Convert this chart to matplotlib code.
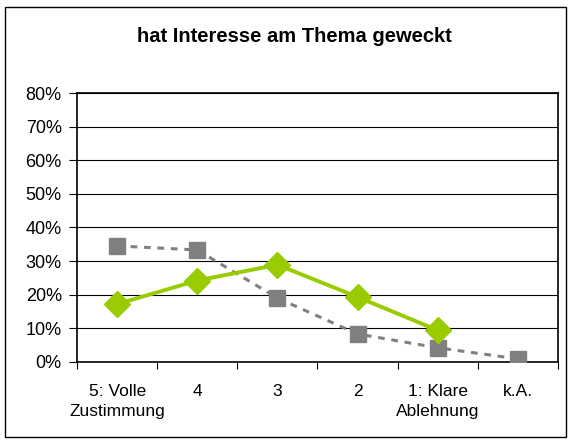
from matplotlib import pyplot as plt
from matplotlib.patches import Rectangle

categories = ['5: Volle\nZustimmung', '4', '3', '2', '1: Klare\nAblehnung', 'k.A.']
gray_values = [34.5, 33.3, 19.0, 8.3, 4.2, 0.9]
green_values = [17.2, 24.2, 28.9, 19.3, 9.4]
y_ticks = [0, 10, 20, 30, 40, 50, 60, 70, 80]

plt.rcParams['font.family'] = ['Liberation Sans', 'DejaVu Sans']

fig = plt.figure(figsize=(5.71, 4.44), dpi=100)
ax = fig.add_axes([0.135, 0.185, 0.842, 0.6055])

# outer frame
fig.patches.append(Rectangle((0.009, 0.016), 0.982, 0.968, transform=fig.transFigure,
                             fill=False, edgecolor='black', linewidth=1))

x = list(range(len(categories)))
ax.plot(x, gray_values, color='#808080', linestyle=(0, (2.2, 2.2)), linewidth=2.2,
        marker='s', markersize=11, zorder=3)
ax.plot(x[:len(green_values)], green_values, color='#99CC00', linewidth=2.8,
        marker='D', markersize=13.5, zorder=4)

ax.set_xlim(-0.5, len(categories) - 0.5)
ax.set_ylim(0, 80)
ax.set_yticks(y_ticks)
ax.set_yticklabels([f'{v}%' for v in y_ticks], fontsize=13)
ax.yaxis.grid(True, color='black', linewidth=0.8)
ax.set_axisbelow(True)

ax.set_xticks([i + 0.5 for i in range(-1, len(categories))])
ax.set_xticklabels([])
ax.set_xticks(x, minor=True)
ax.set_xticklabels(categories, minor=True, fontsize=12.5, linespacing=1.45)
ax.tick_params(axis='x', which='minor', length=0, pad=16)
ax.tick_params(axis='x', which='major', length=5, direction='out')
ax.tick_params(axis='y', length=6, direction='out', pad=5)

for s in ax.spines.values():
    s.set_linewidth(1.2)

fig.text(0.515, 0.918, 'hat Interesse am Thema geweckt', ha='center', va='center',
         fontsize=14.5, fontweight='bold')

plt.savefig('out.png', dpi=100)
